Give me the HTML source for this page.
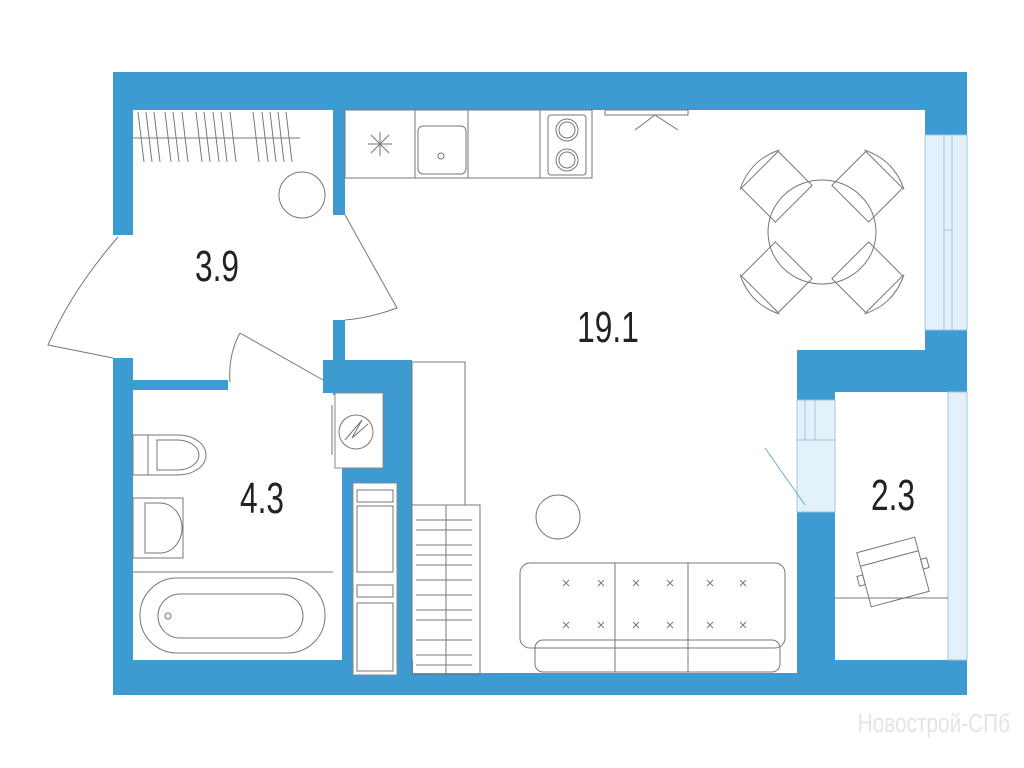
<!DOCTYPE html>
<html><head><meta charset="utf-8"><style>
html,body{margin:0;padding:0;background:#fff;}
svg{display:block}
.t{font-family:"Liberation Sans Narrow","Liberation Sans",sans-serif;fill:#222;}
</style></head><body>
<svg width="1024" height="768" viewBox="0 0 1024 768" xmlns="http://www.w3.org/2000/svg">
<g fill="#3d9bd1">
<!-- top wall -->
<rect x="113" y="72" width="854" height="38"/>
<rect x="925" y="72" width="42" height="63"/>
<!-- left wall -->
<rect x="113" y="72" width="20" height="163"/>
<rect x="113" y="358" width="20" height="337"/>
<!-- bottom wall -->
<rect x="113" y="673" width="854" height="22"/>
<rect x="113" y="660" width="300" height="35"/>
<!-- hall/kitchen wall -->
<rect x="333" y="110" width="12" height="105"/>
<rect x="333" y="320" width="12" height="75"/>
<!-- hall/bath wall -->
<rect x="133" y="380" width="95" height="10"/>
<rect x="323" y="360" width="89" height="33"/>
<rect x="342" y="360" width="70" height="335"/>
<!-- right -->
<rect x="925" y="330" width="42" height="62"/>
<rect x="797" y="350" width="170" height="42"/>
<rect x="797" y="350" width="38" height="50"/>
<rect x="797" y="512" width="38" height="183"/>
<rect x="797" y="660" width="170" height="35"/>
</g>
<!-- windows -->
<g fill="#e3f1fa" stroke="#9cc7e0" stroke-width="1">
<rect x="925" y="135" width="42" height="195"/>
<rect x="948" y="392" width="19" height="268"/>
<rect x="797" y="400" width="38" height="112"/>
</g>
<g stroke="#9cc7e0" fill="none" stroke-width="1">
<rect x="944" y="135" width="8" height="195"/>
<line x1="944" y1="230" x2="952" y2="230"/>
<rect x="805" y="400" width="10" height="40"/>
<line x1="797" y1="440" x2="835" y2="440"/>
</g>
<!-- white insets in wall -->
<g fill="#fff" stroke="#888" stroke-width="1">
<rect x="335" y="393" width="48" height="75"/>
<rect x="353" y="483" width="44" height="192"/>
</g>
<g fill="none" stroke="#777" stroke-width="1">
<circle cx="356" cy="432" r="17"/>
<path d="M345 440 L362 420 L352 438 L368 424"/>
<line x1="332" y1="405" x2="332" y2="455"/>
<rect x="357" y="490" width="36" height="12"/>
<rect x="357" y="506" width="36" height="66"/>
<rect x="357" y="585" width="36" height="12"/>
<rect x="357" y="603" width="36" height="68"/>
<!-- shelf hatch in hall -->
<line x1="133" y1="138" x2="300" y2="138"/>
<path d="M138 112l6 50M146 112l6 50M154 112l6 50M165 112l6 50M173 112l6 50M182 112l6 50M196 112l6 50M204 112l6 50M213 112l6 50M221 112l6 50M230 112l6 50M253 112l6 50M262 112l6 50M270 112l6 50M278 112l6 50M286 112l6 50"/>
<circle cx="302" cy="195" r="23"/>
<!-- doors -->
<path d="M118 237 Q72 290 48 345 L113 358"/>
<path d="M345 215 L397 308 Q370 318 345 320"/>
<path d="M240 333 Q228 355 230 382 M240 333 L323 380"/>
<!-- kitchen -->
<rect x="345" y="110" width="70" height="68"/>
<rect x="415" y="110" width="53" height="68"/>
<rect x="468" y="110" width="72" height="68"/>
<rect x="540" y="110" width="52" height="68"/>
<path d="M380 132v24M368 144h24M371 135l18 18M389 135l-18 18"/>
<rect x="418" y="126" width="48" height="48" rx="5"/>
<circle cx="441" cy="156" r="3"/>
<rect x="548" y="115" width="38" height="60" rx="3"/>
<circle cx="567" cy="130" r="11"/><circle cx="567" cy="130" r="8"/>
<circle cx="567" cy="160" r="11"/><circle cx="567" cy="160" r="8"/>
<rect x="605" y="110" width="83" height="5"/>
<path d="M655 115 L635 130 M655 115 L678 130"/>
<!-- table -->
<ellipse cx="822" cy="232" rx="54" ry="52"/>
<g transform="translate(822,232)">
<g transform="rotate(-45)"><rect x="-26" y="-88" width="52" height="48"/><path d="M-28 -88 Q0 -102 28 -88"/></g>
<g transform="rotate(45)"><rect x="-26" y="-88" width="52" height="48"/><path d="M-28 -88 Q0 -102 28 -88"/></g>
<g transform="rotate(135)"><rect x="-26" y="-88" width="52" height="48"/><path d="M-28 -88 Q0 -102 28 -88"/></g>
<g transform="rotate(-135)"><rect x="-26" y="-88" width="52" height="48"/><path d="M-28 -88 Q0 -102 28 -88"/></g>
</g>
<!-- wardrobe -->
<rect x="412" y="362" width="53" height="143"/>
<rect x="412" y="505" width="68" height="170"/>
<line x1="446" y1="505" x2="446" y2="675"/>
<path d="M416 520h56M416 530h56M416 545h56M416 555h56M416 565h56M416 580h56M416 595h56M416 610h56M416 620h56M416 640h56M416 655h56M416 665h56"/>
<line x1="765" y1="448" x2="805" y2="505" stroke="#6aaad4"/>
<!-- pouf -->
<circle cx="558" cy="517" r="22"/>
<!-- sofa -->
<rect x="520" y="563" width="265" height="85" rx="10"/>
<rect x="535" y="640" width="245" height="32" rx="8"/>
<line x1="615" y1="563" x2="615" y2="672"/>
<line x1="688" y1="563" x2="688" y2="672"/>
<path d="M563 580l6 6M569 580l-6 6M598 580l6 6M604 580l-6 6M633 580l6 6M639 580l-6 6M667 580l6 6M673 580l-6 6M707 580l6 6M713 580l-6 6M740 580l6 6M746 580l-6 6M563 622l6 6M569 622l-6 6M598 622l6 6M604 622l-6 6M633 622l6 6M639 622l-6 6M667 622l6 6M673 622l-6 6M707 622l6 6M713 622l-6 6M740 622l6 6M746 622l-6 6"/>
<!-- balcony -->
<line x1="835" y1="598" x2="948" y2="598"/>
<g transform="translate(893,572) rotate(-15)"><rect x="-30" y="-28" width="60" height="56"/><line x1="-30" y1="-14" x2="30" y2="-14"/><rect x="-36" y="-5" width="6" height="10"/><rect x="30" y="-5" width="6" height="10"/></g>
<!-- bathroom -->
<rect x="133" y="435" width="15" height="40"/>
<path d="M148 435 h30 a28 20 0 0 1 0 40 h-30 z"/>
<path d="M157 440 h20 a22 15 0 0 1 0 30 h-20 z"/>
<rect x="133" y="498" width="50" height="60"/>
<path d="M145 503 h15 a22 25 0 0 1 0 50 h-15 z"/>
<line x1="133" y1="572" x2="333" y2="572"/>
<rect x="140" y="578" width="185" height="75" rx="37"/>
<rect x="158" y="594" width="145" height="44" rx="22"/>
<circle cx="168" cy="616" r="3"/>
</g>
<text class="t" x="217" y="281" font-size="44" text-anchor="middle" transform="translate(217,0) scale(0.72,1) translate(-217,0)">3.9</text>
<text class="t" x="608" y="342" font-size="44" text-anchor="middle" transform="translate(608,0) scale(0.72,1) translate(-608,0)">19.1</text>
<text class="t" x="262" y="513" font-size="44" text-anchor="middle" transform="translate(262,0) scale(0.72,1) translate(-262,0)">4.3</text>
<text class="t" x="893" y="510" font-size="44" text-anchor="middle" transform="translate(893,0) scale(0.72,1) translate(-893,0)">2.3</text>
<text x="1010" y="732" font-size="26" text-anchor="end" fill="#e4e4e4" font-family="Liberation Sans Narrow, Liberation Sans, sans-serif" transform="translate(1010,0) scale(0.8,1) translate(-1010,0)">Новострой-СПб</text>
</svg>
</body></html>
